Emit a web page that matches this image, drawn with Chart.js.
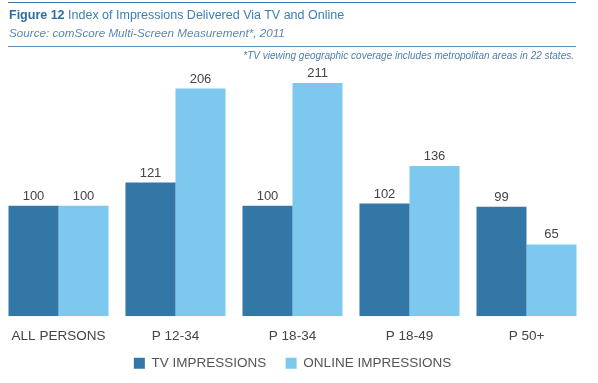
<!DOCTYPE html>
<html>
<head>
<meta charset="utf-8">
<script src="https://cdn.jsdelivr.net/npm/chart.js@4"></script>
<style>
    body { margin: 0; background: #fff; font-family: "Liberation Sans", Arial, sans-serif; }
    #wrap { position: relative; width: 598px; height: 383px; }
    #myBarChart { position: absolute; left: 0; top: 0; }
    .rule { position: absolute; left: 8px; width: 568px; height: 1px; background: #5b8fbb; }
    #title { position: absolute; left: 9px; top: 8px; font-size: 12.5px; color: #3c7fb1; white-space: nowrap; }
    #title b { color: #2d6e9f; }
    #source { position: absolute; left: 9px; top: 26px; font-size: 11.7px; font-style: italic; color: #5a87b2; white-space: nowrap; }
    #note { position: absolute; right: 24px; top: 50px; font-size: 10px; font-style: italic; color: #4d7fac; white-space: nowrap; }
</style>
</head>
<body>
<div id="wrap">
    <canvas id="myBarChart" width="598" height="383"></canvas>
    <div class="rule" style="top:2px; background:#3a7db0;"></div>
    <div id="title"><b>Figure 12</b> Index of Impressions Delivered Via TV and Online</div>
    <div id="source">Source: comScore Multi-Screen Measurement*, 2011</div>
    <div class="rule" style="top:46px;"></div>
    <div id="note">*TV viewing geographic coverage includes metropolitan areas in 22 states.</div>
</div>
<script>
const categories = ['ALL PERSONS', 'P 12-34', 'P 18-34', 'P 18-49', 'P 50+'];
const tvImpressions = [100, 121, 100, 102, 99];
const onlineImpressions = [100, 206, 211, 136, 65];

const valueLabels = {
    id: 'valueLabels',
    afterDatasetsDraw(chart) {
        const ctx = chart.ctx;
        ctx.save();
        ctx.font = '13px "Liberation Sans", Arial, sans-serif';
        ctx.fillStyle = '#444';
        ctx.textAlign = 'center';
        ctx.textBaseline = 'middle';
        chart.data.datasets.forEach((ds, i) => {
            chart.getDatasetMeta(i).data.forEach((bar, j) => {
                ctx.fillText(ds.data[j], bar.x, bar.y - 9.5);
            });
        });
        ctx.restore();
    }
};

document.addEventListener("DOMContentLoaded", function() {
    const ctx = document.getElementById('myBarChart');

    new Chart(ctx.getContext('2d'), {
        type: 'bar',
        data: {
            labels: categories,
            datasets: [{
                label: 'TV IMPRESSIONS',
                data: tvImpressions,
                backgroundColor: '#3277a6',
                categoryPercentage: 0.855,
                barPercentage: 1.0
            }, {
                label: 'ONLINE IMPRESSIONS',
                data: onlineImpressions,
                backgroundColor: '#7cc8ee',
                categoryPercentage: 0.855,
                barPercentage: 1.0
            }]
        },
        options: {
            responsive: false,
            animation: false,
            layout: {
                padding: { top: 73, left: 0, right: 13, bottom: 3 }
            },
            scales: {
                x: {
                    grid: { display: false },
                    border: { display: false },
                    ticks: {
                        color: '#444',
                        padding: 4,
                        font: { family: '"Liberation Sans", Arial, sans-serif', size: 13.5 }
                    }
                },
                y: {
                    display: false,
                    min: 0,
                    max: 220
                }
            },
            plugins: {
                legend: {
                    position: 'bottom',
                    labels: {
                        boxWidth: 11,
                        boxHeight: 11,
                        padding: 8,
                        color: '#555',
                        font: { family: '"Liberation Sans", Arial, sans-serif', size: 13.5 },
                        generateLabels(chart) {
                            // widen the gap between the two legend items
                            const items = Chart.defaults.plugins.legend.labels.generateLabels(chart);
                            items[0].text = items[0].text + '   ';
                            return items;
                        }
                    }
                },
                tooltip: { enabled: false }
            }
        },
        plugins: [valueLabels]
    });
});
</script>
</body>
</html>
